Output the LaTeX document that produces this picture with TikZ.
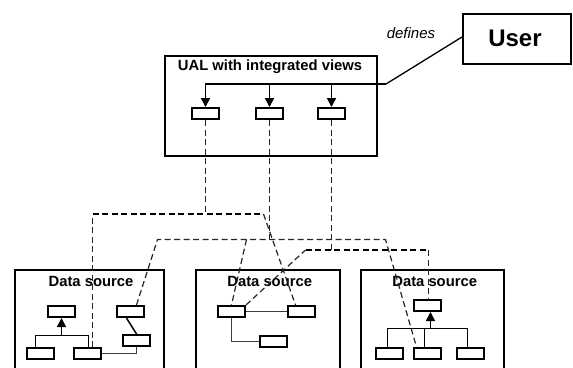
\documentclass[tikz,border=0pt]{standalone}
\usepackage{fontspec}
\setmainfont{Liberation Sans}
\usetikzlibrary{arrows.meta}
\begin{document}
\begin{tikzpicture}[x=1pt,y=-1pt,
  frame/.style={draw,line width=2pt,inner sep=0pt},
  sbox/.style={draw,line width=2pt,inner sep=0pt,minimum width=27pt,minimum height=11pt},
  ttl/.style={inner sep=0pt,font=\fontsize{14.8}{17}\selectfont\bfseries},
  tree/.style={line width=1.5pt},
  arr/.style={line width=1.5pt,-{Triangle[length=9pt,width=9pt]}},
  thinl/.style={line width=1.2pt,black!75},
  dthick/.style={line width=2pt,black,dash pattern=on 6pt off 3.5pt},
  dthin/.style={line width=1.2pt,black!85,dash pattern=on 6pt off 3.5pt}]
\useasboundingbox (0,0) rectangle (573,367);
% UAL
\node[frame,minimum width=212pt,minimum height=100pt] (ual) at (271,106) {};
\node[ttl] (ualt) at (270,67) {UAL with integrated views};
\node[sbox] (u1) at (205.5,113.5) {};
\node[sbox] (u2) at (269.5,113.5) {};
\node[sbox] (u3) at (331.5,113.5) {};
% User
\node[frame,minimum width=108pt,minimum height=50pt] (user) at (517,39) {};
\node[inner sep=0pt,font=\fontsize{24}{28}\selectfont\bfseries] (usert) at (515,38) {User};
\node[inner sep=0pt,font=\fontsize{15}{17}\selectfont\itshape] (def) at (411,33) {defines};
\coordinate (barR) at (386,84);
\draw[line width=2pt] ([xshift=-0.75pt]u1 |- barR) -- (barR);
\draw[line width=1.3pt] (barR) -- ([yshift=2pt]user.west);
\draw[arr] (u1 |- barR) -- (u1.north);
\draw[arr] (u2 |- barR) -- (u2.north);
\draw[arr] (u3 |- barR) -- (u3.north);
% Data source 1
\node[frame,minimum width=149pt,minimum height=120pt] (ds1) at (89.5,330) {};
\node[ttl] (ds1t) at (91,281) {Data source};
\node[sbox] (a1) at (61.5,311.5) {};
\node[sbox] (a2) at (130.5,311.5) {};
\node[sbox] (a3) at (40.5,353.5) {};
\node[sbox] (a4) at (87.5,353.5) {};
\node[sbox] (a5) at (136.5,340.5) {};
\coordinate (j1) at (61.5,335.5);
\draw[arr] (j1) -- (a1.south);
\draw[tree] ([xshift=-5pt]a3.north) |- ([xshift=1pt]a4.north |- j1) -- ([xshift=1pt]a4.north);
\draw[tree] ([xshift=-4pt]a2.south) -- (a5.north);
\draw[thinl] (a5.south) |- (a4.east);
% Data source 2
\node[frame,minimum width=144pt,minimum height=120pt] (ds2) at (268,330) {};
\node[ttl] (ds2t) at (269.7,281) {Data source};
\node[sbox] (b1) at (231.5,311.5) {};
\node[sbox] (b2) at (301.5,311.5) {};
\node[sbox] (b3) at (273.5,341.5) {};
\draw[thinl] (b1.east) -- (b2.west);
\draw[thinl] (b1.south) |- (b3.west);
% Data source 3
\node[frame,minimum width=143pt,minimum height=120pt] (ds3) at (432.5,330) {};
\node[ttl] (ds3t) at (434.7,281) {Data source};
\node[sbox] (c0) at (427.5,305.5) {};
\node[sbox] (c1) at (389.5,353.5) {};
\node[sbox] (c2) at (427.5,353.5) {};
\node[sbox] (c3) at (470.5,353.5) {};
\coordinate (j3) at (430.5,328.5);
\draw[arr] (j3) -- ([xshift=3pt]c0.south);
\draw[tree] ([xshift=-2pt]c1.north) |- ([xshift=-3pt]c3.north |- j3) -- ([xshift=-3pt]c3.north);
\draw[tree] ([xshift=-3pt]c2.north) -- ([xshift=-3pt]c2.north |- j3);
% dashed mapping lines
\coordinate (jA) at (205.5,214);
\coordinate (kA) at (263.5,214);
\draw[dthin] (u1.south) -- (jA);
\draw[dthin] ([xshift=5pt]a4.north) -- ([xshift=5pt]a4.north |- jA);
\draw[dthick] ([xshift=5pt]a4.north |- jA) -- (kA);
\draw[dthin] (kA) -- ([xshift=-6pt]b2.north);
\coordinate (jB) at (269.5,239.5);
\coordinate (lB) at (157.5,239.5);
\coordinate (mB) at (246.5,239.5);
\coordinate (rB) at (385.5,239.5);
\draw[dthin] (u2.south) -- (jB);
\draw[dthin] ([xshift=6pt]a2.north) -- (lB) -- (rB) -- ([xshift=-11pt]c2.north);
\draw[dthin] (mB) -- (b1.north);
\coordinate (jC) at (331.5,250);
\coordinate (lC) at (305.5,250);
\draw[dthin] (u3.south) -- (jC);
\draw[dthin] (b1.north east) -- (lC);
\draw[dthick] (lC) -- ([xshift=1pt]c0.north |- jC);
\draw[dthin] ([xshift=1pt]c0.north |- jC) -- ([xshift=1pt]c0.north);
\end{tikzpicture}
\end{document}
